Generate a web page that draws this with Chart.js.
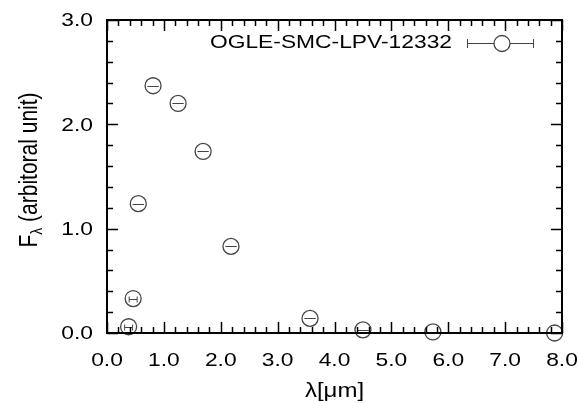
<!DOCTYPE html>
<html>
<head>
<meta charset="utf-8">
<script src="https://cdn.jsdelivr.net/npm/chart.js@4.4.1/dist/chart.umd.min.js"></script>
<style>
  html, body { margin: 0; padding: 0; background: #fff; }
  #wrap { width: 578px; height: 403px; }
</style>
</head>
<body>
<div id="wrap"><canvas id="sed"></canvas></div>
<script>
// wavelength (micron) and flux
const wavelengths = [0.38, 0.46, 0.55, 0.81, 1.25, 1.69, 2.18, 3.57, 4.50, 5.73, 7.87];
const fluxes = [0.06, 0.33, 1.24, 2.37, 2.20, 1.74, 0.83, 0.14, 0.03, 0.01, 0.00];
const xErrors = [0.07, 0.07, 0.10, 0.10, 0.10, 0.10, 0.10, 0.10, 0.10, 0.10, 0.10];
const xTickValues = [0, 1, 2, 3, 4, 5, 6, 7, 8];
const yTickValues = [0, 1, 2, 3];
const starName = 'OGLE-SMC-LPV-12332';

const FONT = '"Liberation Sans", Arial, Helvetica, sans-serif';
const STRETCH = 1.2; // the original picture is a bit wider than tall
const pointColor = '#444';

// draw text stretched horizontally
function wideText(ctx, text, x, y, align, size) {
    ctx.save();
    ctx.font = size + 'px ' + FONT;
    ctx.textAlign = align;
    ctx.translate(x, y);
    ctx.scale(STRETCH, 1);
    ctx.fillText(text, 0, 0);
    ctx.restore();
}

// frame, inward ticks, labels, error bars, legend and titles
const decorations = {
    id: 'decorations',
    afterDatasetsDraw(chart) {
        const ctx = chart.ctx;
        const xs = chart.scales.x;
        const ys = chart.scales.y;
        const area = chart.chartArea;

        // error bars
        ctx.save();
        ctx.strokeStyle = pointColor;
        ctx.lineWidth = 1;
        wavelengths.forEach((w, i) => {
            const x1 = xs.getPixelForValue(w - xErrors[i]);
            const x2 = xs.getPixelForValue(w + xErrors[i]);
            const y = Math.round(ys.getPixelForValue(fluxes[i])) + 0.5;
            ctx.beginPath();
            ctx.moveTo(x1, y); ctx.lineTo(x2, y);
            if (x2 - x1 < 11) {
                ctx.moveTo(x1, y - 3); ctx.lineTo(x1, y + 3);
                ctx.moveTo(x2, y - 3); ctx.lineTo(x2, y + 3);
            }
            ctx.stroke();
        });
        ctx.restore();

        // ticks
        ctx.save();
        ctx.strokeStyle = '#000';
        ctx.lineWidth = 1.5;
        ctx.beginPath();
        for (let v = 0; v <= 8.001; v += 0.2) {
            const px = Math.round(xs.getPixelForValue(v)) + 0.5;
            const major = Math.abs(v - Math.round(v)) < 0.01;
            const len = major ? 11 : 6;
            ctx.moveTo(px, area.bottom); ctx.lineTo(px, area.bottom - len);
            ctx.moveTo(px, area.top); ctx.lineTo(px, area.top + len);
        }
        for (let v = 0; v <= 3.001; v += 0.2) {
            const py = Math.round(ys.getPixelForValue(v)) + 0.5;
            const major = Math.abs(v - Math.round(v)) < 0.01;
            const len = major ? 11 : 6;
            ctx.moveTo(area.left, py); ctx.lineTo(area.left + len, py);
            ctx.moveTo(area.right, py); ctx.lineTo(area.right - len, py);
        }
        ctx.stroke();

        // frame
        ctx.lineWidth = 2;
        ctx.strokeRect(area.left, area.top, area.right - area.left, area.bottom - area.top);
        ctx.restore();

        // tick labels
        ctx.save();
        ctx.fillStyle = '#000';
        ctx.textBaseline = 'alphabetic';
        xTickValues.forEach(v => {
            wideText(ctx, v.toFixed(1), xs.getPixelForValue(v), area.bottom + 33, 'center', 19);
        });
        ctx.textBaseline = 'middle';
        yTickValues.forEach(v => {
            wideText(ctx, v.toFixed(1), area.left - 14, ys.getPixelForValue(v) + 1, 'right', 19);
        });

        // x title
        ctx.textBaseline = 'alphabetic';
        wideText(ctx, 'λ[μm]', (area.left + area.right) / 2, 397, 'center', 20);

        // legend
        ctx.textBaseline = 'alphabetic';
        wideText(ctx, starName, 452, 48, 'right', 19);
        ctx.strokeStyle = pointColor;
        ctx.lineWidth = 1;
        ctx.beginPath();
        ctx.moveTo(467, 43.5); ctx.lineTo(534, 43.5);
        ctx.moveTo(467.5, 39); ctx.lineTo(467.5, 48);
        ctx.moveTo(533.5, 39); ctx.lineTo(533.5, 48);
        ctx.stroke();
        ctx.fillStyle = '#fff';
        ctx.lineWidth = 1.3;
        ctx.beginPath();
        ctx.arc(502, 43.5, 8, 0, Math.PI * 2);
        ctx.fill();
        ctx.stroke();
        ctx.restore();

        // y axis title with subscript lambda
        ctx.save();
        ctx.translate(37, 170);
        ctx.rotate(-Math.PI / 2);
        ctx.scale(1, STRETCH);
        ctx.fillStyle = '#000';
        ctx.textBaseline = 'alphabetic';
        const big = '21px ' + FONT;
        const small = '14px ' + FONT;
        const main = 'F';
        const rest = ' (arbitoral unit)';
        ctx.font = big;
        const wF = ctx.measureText(main).width;
        const wR = ctx.measureText(rest).width;
        ctx.font = small;
        const wL = ctx.measureText('λ').width;
        const x0 = -(wF + wL + wR) / 2;
        ctx.font = big;
        ctx.fillText(main, x0, 0);
        ctx.fillText(rest, x0 + wF + wL, 0);
        ctx.font = small;
        ctx.fillText('λ', x0 + wF, 4);
        ctx.restore();
    }
};

new Chart(document.getElementById('sed'), {
    type: 'scatter',
    data: {
        datasets: [{
            label: starName,
            data: wavelengths.map((w, i) => ({ x: w, y: fluxes[i] })),
            pointStyle: 'circle',
            pointRadius: 8,
            pointHoverRadius: 8,
            backgroundColor: 'rgba(0,0,0,0)',
            borderColor: pointColor,
            borderWidth: 1.3
        }]
    },
    options: {
        responsive: true,
        maintainAspectRatio: false,
        animation: false,
        clip: false,
        layout: { padding: { top: 20, right: 16, left: 0, bottom: 0 } },
        plugins: {
            legend: { display: false },
            tooltip: { enabled: false }
        },
        scales: {
            x: {
                type: 'linear',
                min: 0,
                max: 8,
                afterBuildTicks: s => { s.ticks = xTickValues.map(v => ({ value: v })); },
                afterFit: s => { s.height = 70; },
                grid: { display: false, drawTicks: false },
                border: { display: false },
                ticks: { display: false }
            },
            y: {
                type: 'linear',
                min: 0,
                max: 3,
                afterBuildTicks: s => { s.ticks = yTickValues.map(v => ({ value: v })); },
                afterFit: s => { s.width = 107; },
                grid: { display: false, drawTicks: false },
                border: { display: false },
                ticks: { display: false }
            }
        }
    },
    plugins: [decorations]
});
</script>
</body>
</html>
